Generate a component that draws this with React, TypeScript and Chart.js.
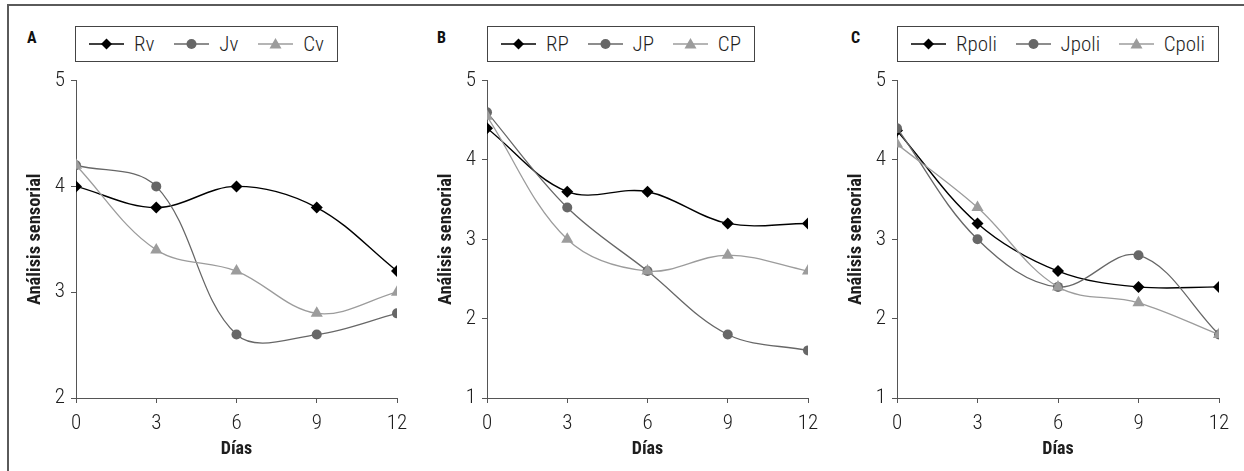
import React, { useEffect, useRef } from "react";
import { Chart, registerables } from "chart.js";

Chart.register(...registerables);

// ---------- data ----------
const days = [0, 3, 6, 9, 12];
const xTickValues = [0, 3, 6, 9, 12];

const panelLetters = ["A", "B", "C"];
const xTitle = "Días";
const yTitle = "Análisis sensorial";

const seriesNamesA = ["Rv", "Jv", "Cv"];
const rvValues = [4.0, 3.8, 4.0, 3.8, 3.2];
const jvValues = [4.2, 4.0, 2.6, 2.6, 2.8];
const cvValues = [4.2, 3.4, 3.2, 2.8, 3.0];

const seriesNamesB = ["RP", "JP", "CP"];
const rpValues = [4.4, 3.6, 3.6, 3.2, 3.2];
const jpValues = [4.6, 3.4, 2.6, 1.8, 1.6];
const cpValues = [4.55, 3.0, 2.6, 2.8, 2.6];

const seriesNamesC = ["Rpoli", "Jpoli", "Cpoli"];
const rpoliValues = [4.37, 3.2, 2.6, 2.4, 2.4];
const jpoliValues = [4.4, 3.0, 2.4, 2.8, 1.8];
const cpoliValues = [4.2, 3.4, 2.4, 2.2, 1.8];

const yMinA = 2;
const yMinBC = 1;
const yMax = 5;

// ---------- styles ----------
const FAMILY = "Roboto, 'DejaVu Sans Condensed', sans-serif";
const seriesColors = ["#000000", "#676767", "#9c9c9c"];
const seriesPointStyles = ["rectRot", "circle", "triangle"] as const;
const seriesRadius = [6, 5, 7];
const seriesLineWidth = [1.4, 1.3, 1.3];
const axisColor = "#555555";
const textColor = "#1e1e1e";

type PanelCfg = {
  letter: string;
  names: string[];
  values: number[][];
  yMin: number;
  canvasLeft: number;
  canvasWidth: number;
  yAxisWidth: number;
  padRight: number;
  legendLeft: number;
  legendWidth: number;
  letterLeft: number;
};

const CANVAS_TOP = 62;
const CANVAS_HEIGHT = 409;

const panels: PanelCfg[] = [
  {
    letter: panelLetters[0],
    names: seriesNamesA,
    values: [rvValues, jvValues, cvValues],
    yMin: yMinA,
    canvasLeft: 9,
    canvasWidth: 411,
    yAxisWidth: 67,
    padRight: 23,
    legendLeft: 75,
    legendWidth: 263,
    letterLeft: 27,
  },
  {
    letter: panelLetters[1],
    names: seriesNamesB,
    values: [rpValues, jpValues, cpValues],
    yMin: yMinBC,
    canvasLeft: 420,
    canvasWidth: 410,
    yAxisWidth: 67,
    padRight: 22,
    legendLeft: 487,
    legendWidth: 268,
    letterLeft: 437,
  },
  {
    letter: panelLetters[2],
    names: seriesNamesC,
    values: [rpoliValues, jpoliValues, cpoliValues],
    yMin: yMinBC,
    canvasLeft: 830,
    canvasWidth: 414,
    yAxisWidth: 67,
    padRight: 25,
    legendLeft: 897,
    legendWidth: 322,
    letterLeft: 851,
  },
];

function Marker({ idx }: { idx: number }) {
  const c = seriesColors[idx];
  let shape: React.ReactNode = null;
  if (idx === 0) shape = <polygon points="17.5,1.5 23,7 17.5,12.5 12,7" fill={c} />;
  else if (idx === 1) shape = <circle cx={17.5} cy={7} r={5} fill={c} />;
  else shape = <polygon points="17.5,1 23.5,11.5 11.5,11.5" fill={c} />;
  return (
    <svg width={35} height={14} style={{ display: "block" }}>
      <line x1={0} y1={7} x2={35} y2={7} stroke={c} strokeWidth={seriesLineWidth[idx]} />
      {shape}
    </svg>
  );
}

function Panel({ cfg }: { cfg: PanelCfg }) {
  const ref = useRef<HTMLCanvasElement>(null);
  useEffect(() => {
    const chartAreaBottomRel = 398 - CANVAS_TOP;
    const xAxisHeight = CANVAS_HEIGHT - chartAreaBottomRel;
    const chart = new Chart(ref.current!, {
      type: "line",
      data: {
        datasets: cfg.values.map((vals, i) => ({
          label: cfg.names[i],
          data: days.map((d, k) => ({ x: d, y: vals[k] })),
          borderColor: seriesColors[i],
          backgroundColor: seriesColors[i],
          pointBackgroundColor: seriesColors[i],
          pointBorderColor: seriesColors[i],
          pointBorderWidth: 0,
          pointStyle: seriesPointStyles[i],
          pointRadius: seriesRadius[i],
          borderWidth: seriesLineWidth[i],
          tension: 0.36,
          fill: false,
          order: 3 - i,
        })),
      },
      options: {
        responsive: false,
        animation: false,
        devicePixelRatio: 1,
        layout: { padding: { top: 73 - CANVAS_TOP, right: cfg.padRight, left: 0, bottom: 0 } },
        plugins: { legend: { display: false }, tooltip: { enabled: false } },
        scales: {
          x: {
            type: "linear",
            min: 0,
            max: 12,
            afterBuildTicks: (s: any) => {
              s.ticks = xTickValues.map((v) => ({ value: v }));
            },
            afterFit: (s: any) => {
              s.height = xAxisHeight;
            },
            grid: { drawOnChartArea: false, drawTicks: true, tickLength: 5, color: axisColor },
            border: { color: axisColor, width: 1 },
            ticks: {
              padding: 8,
              color: textColor,
              font: { family: FAMILY, size: 21, weight: "300 condensed" },
              maxRotation: 0,
            },
            title: {
              display: true,
              text: xTitle,
              color: textColor,
              font: { family: FAMILY, size: 18, weight: "bold condensed" },
              padding: { top: 0, bottom: 11 },
            },
          },
          y: {
            type: "linear",
            min: cfg.yMin,
            max: yMax,
            afterFit: (s: any) => {
              s.width = cfg.yAxisWidth;
            },
            grid: { drawOnChartArea: false, drawTicks: true, tickLength: 5, color: axisColor },
            border: { color: axisColor, width: 1 },
            ticks: {
              stepSize: 1,
              padding: 6,
              color: textColor,
              font: { family: FAMILY, size: 21, weight: "300 condensed" },
            },
            title: {
              display: true,
              text: yTitle,
              color: textColor,
              font: { family: FAMILY, size: 18.5, weight: "bold condensed" },
              padding: { top: 15, bottom: 0 },
            },
          },
        },
      },
    } as any);
    return () => chart.destroy();
  }, []);

  return (
    <>
      <canvas
        ref={ref}
        width={cfg.canvasWidth}
        height={CANVAS_HEIGHT}
        style={{ position: "absolute", left: cfg.canvasLeft, top: CANVAS_TOP, width: cfg.canvasWidth, height: CANVAS_HEIGHT }}
      />
      <div
        style={{
          position: "absolute",
          left: cfg.letterLeft,
          top: 29,
          fontFamily: FAMILY,
          fontStretch: "condensed",
          fontWeight: "bold",
          fontSize: 16,
          lineHeight: "17px",
          color: "#111",
        }}
      >
        {cfg.letter}
      </div>
      <div
        style={{
          position: "absolute",
          left: cfg.legendLeft,
          top: 26,
          width: cfg.legendWidth,
          height: 36,
          boxSizing: "border-box",
          border: "1px solid #444",
          background: "#fff",
          display: "flex",
          alignItems: "center",
          justifyContent: "space-between",
          padding: "0 13px",
          fontFamily: FAMILY,
          fontStretch: "condensed",
          fontWeight: 300,
          fontSize: 21,
          color: textColor,
        }}
      >
        {cfg.names.map((n, i) => (
          <div key={n} style={{ display: "flex", alignItems: "center" }}>
            <Marker idx={i} />
            <span style={{ marginLeft: 10, lineHeight: "21px" }}>{n}</span>
          </div>
        ))}
      </div>
    </>
  );
}

export default function App() {
  return (
    <div
      style={{
        position: "absolute",
        left: 0,
        top: 0,
        width: 1244,
        height: 471,
        background: "#fff",
        overflow: "hidden",
      }}
    >
      <div style={{ position: "absolute", left: 7, top: 4, width: 1237, height: 2, background: "#5a5a5a" }} />
      <div style={{ position: "absolute", left: 7, top: 4, width: 2, height: 467, background: "#5a5a5a" }} />
      {panels.map((p) => (
        <Panel key={p.letter} cfg={p} />
      ))}
    </div>
  );
}
